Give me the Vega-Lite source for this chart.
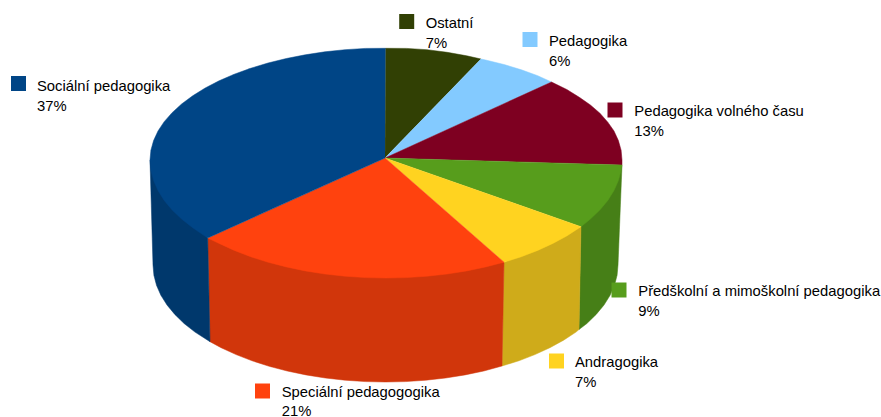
{"$schema":"https://vega.github.io/schema/vega-lite/v6.json","width":881,"height":417,"autosize":{"type":"none"},"padding":0,"background":"white","view":{"stroke":null},
"datasets":{
"wall":[
{"s":"Předškolní a mimoškolní pedagogika","q":1,"x":622,"y":165},{"s":"Předškolní a mimoškolní pedagogika","q":2,"x":618,"y":265},{"s":"Předškolní a mimoškolní pedagogika","q":3,"x":617.1,"y":275.2},{"s":"Předškolní a mimoškolní pedagogika","q":4,"x":614.5,"y":285.3},{"s":"Předškolní a mimoškolní pedagogika","q":5,"x":610.1,"y":295.3},{"s":"Předškolní a mimoškolní pedagogika","q":6,"x":604,"y":305},{"s":"Předškolní a mimoškolní pedagogika","q":7,"x":596.2,"y":314.4},{"s":"Předškolní a mimoškolní pedagogika","q":8,"x":586.9,"y":323.5},{"s":"Předškolní a mimoškolní pedagogika","q":9,"x":579,"y":329.5},{"s":"Předškolní a mimoškolní pedagogika","q":10,"x":581,"y":226.7},
{"s":"Andragogika","q":1,"x":581,"y":226.7},{"s":"Andragogika","q":2,"x":579,"y":329.5},{"s":"Andragogika","q":3,"x":576,"y":332.1},{"s":"Andragogika","q":4,"x":563.6,"y":340.2},{"s":"Andragogika","q":5,"x":549.9,"y":347.7},{"s":"Andragogika","q":6,"x":534.9,"y":354.6},{"s":"Andragogika","q":7,"x":518.9,"y":360.8},{"s":"Andragogika","q":8,"x":502,"y":366},{"s":"Andragogika","q":9,"x":504,"y":262.2},
{"s":"Speciální pedagogogika","q":1,"x":504,"y":262.2},{"s":"Speciální pedagogogika","q":2,"x":502,"y":366},{"s":"Speciální pedagogogika","q":3,"x":483.8,"y":371},{"s":"Speciální pedagogogika","q":4,"x":465,"y":374.9},{"s":"Speciální pedagogogika","q":5,"x":445.7,"y":378},{"s":"Speciální pedagogogika","q":6,"x":425.9,"y":380.2},{"s":"Speciální pedagogogika","q":7,"x":405.8,"y":381.6},{"s":"Speciální pedagogogika","q":8,"x":385.5,"y":382},{"s":"Speciální pedagogogika","q":9,"x":365.2,"y":381.6},{"s":"Speciální pedagogogika","q":10,"x":345.1,"y":380.2},{"s":"Speciální pedagogogika","q":11,"x":325.3,"y":378},{"s":"Speciální pedagogogika","q":12,"x":306,"y":374.9},{"s":"Speciální pedagogogika","q":13,"x":287.2,"y":371},{"s":"Speciální pedagogogika","q":14,"x":269.2,"y":366.3},{"s":"Speciální pedagogogika","q":15,"x":252.1,"y":360.8},{"s":"Speciální pedagogogika","q":16,"x":236.1,"y":354.6},{"s":"Speciální pedagogogika","q":17,"x":221.1,"y":347.7},{"s":"Speciální pedagogogika","q":18,"x":210,"y":341.7},{"s":"Speciální pedagogogika","q":19,"x":207.7,"y":238},
{"s":"Sociální pedagogika","q":1,"x":207.7,"y":238},{"s":"Sociální pedagogika","q":2,"x":210,"y":341.7},{"s":"Sociální pedagogika","q":3,"x":195,"y":332.1},{"s":"Sociální pedagogika","q":4,"x":184.1,"y":323.5},{"s":"Sociální pedagogika","q":5,"x":174.8,"y":314.4},{"s":"Sociální pedagogika","q":6,"x":167,"y":305},{"s":"Sociální pedagogika","q":7,"x":160.9,"y":295.3},{"s":"Sociální pedagogika","q":8,"x":156.5,"y":285.3},{"s":"Sociální pedagogika","q":9,"x":153.9,"y":275.2},{"s":"Sociální pedagogika","q":10,"x":153,"y":265},{"s":"Sociální pedagogika","q":11,"x":150,"y":160}
],
"top":[
{"s":"Ostatní","q":0,"x":385,"y":158},{"s":"Ostatní","q":1,"x":385.5,"y":48.3},{"s":"Ostatní","q":2,"x":406.6,"y":48.4},{"s":"Ostatní","q":3,"x":427,"y":49.7},{"s":"Ostatní","q":4,"x":447.1,"y":52.3},{"s":"Ostatní","q":5,"x":466.7,"y":55.8},{"s":"Ostatní","q":6,"x":481,"y":59},
{"s":"Pedagogika","q":0,"x":385,"y":158},{"s":"Pedagogika","q":1,"x":481,"y":59},{"s":"Pedagogika","q":2,"x":485.7,"y":60},{"s":"Pedagogika","q":3,"x":504,"y":64.5},{"s":"Pedagogika","q":4,"x":521.4,"y":69.8},{"s":"Pedagogika","q":5,"x":537.7,"y":75.7},{"s":"Pedagogika","q":6,"x":551.5,"y":82},
{"s":"Pedagogika volného času","q":0,"x":385,"y":158},{"s":"Pedagogika volného času","q":1,"x":551.5,"y":82},{"s":"Pedagogika volného času","q":2,"x":566.8,"y":89.5},{"s":"Pedagogika volného času","q":3,"x":579.3,"y":97.3},{"s":"Pedagogika volného času","q":4,"x":590.4,"y":105},{"s":"Pedagogika volného času","q":5,"x":599.9,"y":113.2},{"s":"Pedagogika volného času","q":6,"x":607.8,"y":122.2},{"s":"Pedagogika volného času","q":7,"x":614,"y":131},{"s":"Pedagogika volného času","q":8,"x":618.4,"y":140.6},{"s":"Pedagogika volného času","q":9,"x":621.1,"y":150.2},{"s":"Pedagogika volného času","q":10,"x":622,"y":160},{"s":"Pedagogika volného času","q":11,"x":622,"y":165},
{"s":"Předškolní a mimoškolní pedagogika","q":0,"x":385,"y":158},{"s":"Předškolní a mimoškolní pedagogika","q":1,"x":622,"y":165},{"s":"Předškolní a mimoškolní pedagogika","q":2,"x":621.1,"y":170.3},{"s":"Předškolní a mimoškolní pedagogika","q":3,"x":618.4,"y":180.5},{"s":"Předškolní a mimoškolní pedagogika","q":4,"x":614,"y":190.5},{"s":"Předškolní a mimoškolní pedagogika","q":5,"x":607.8,"y":200.4},{"s":"Předškolní a mimoškolní pedagogika","q":6,"x":599.9,"y":209.9},{"s":"Předškolní a mimoškolní pedagogika","q":7,"x":590.4,"y":219},{"s":"Předškolní a mimoškolní pedagogika","q":8,"x":581,"y":226.7},
{"s":"Andragogika","q":0,"x":385,"y":158},{"s":"Andragogika","q":1,"x":581,"y":226.7},{"s":"Andragogika","q":2,"x":566.8,"y":235.9},{"s":"Andragogika","q":3,"x":552.9,"y":243.4},{"s":"Andragogika","q":4,"x":537.7,"y":250.4},{"s":"Andragogika","q":5,"x":521.4,"y":256.7},{"s":"Andragogika","q":6,"x":504,"y":262.2},
{"s":"Speciální pedagogogika","q":0,"x":385,"y":158},{"s":"Speciální pedagogogika","q":1,"x":504,"y":262.2},{"s":"Speciální pedagogogika","q":2,"x":485.7,"y":266.9},{"s":"Speciální pedagogogika","q":3,"x":466.7,"y":270.9},{"s":"Speciální pedagogogika","q":4,"x":447.1,"y":274},{"s":"Speciální pedagogogika","q":5,"x":427,"y":276.2},{"s":"Speciální pedagogogika","q":6,"x":406.6,"y":277.6},{"s":"Speciální pedagogogika","q":7,"x":386,"y":278},{"s":"Speciální pedagogogika","q":8,"x":365.4,"y":277.6},{"s":"Speciální pedagogogika","q":9,"x":345,"y":276.2},{"s":"Speciální pedagogogika","q":10,"x":324.9,"y":274},{"s":"Speciální pedagogogika","q":11,"x":305.3,"y":270.9},{"s":"Speciální pedagogogika","q":12,"x":286.3,"y":266.9},{"s":"Speciální pedagogogika","q":13,"x":268,"y":262.2},{"s":"Speciální pedagogogika","q":14,"x":250.6,"y":256.7},{"s":"Speciální pedagogogika","q":15,"x":234.3,"y":250.4},{"s":"Speciální pedagogogika","q":16,"x":219.1,"y":243.4},{"s":"Speciální pedagogogika","q":17,"x":207.7,"y":238},
{"s":"Sociální pedagogika","q":0,"x":385,"y":158},{"s":"Sociální pedagogika","q":1,"x":207.7,"y":238},{"s":"Sociální pedagogika","q":2,"x":192.7,"y":227.7},{"s":"Sociální pedagogika","q":3,"x":181.6,"y":219},{"s":"Sociální pedagogika","q":4,"x":172.1,"y":209.9},{"s":"Sociální pedagogika","q":5,"x":164.2,"y":200.4},{"s":"Sociální pedagogika","q":6,"x":158,"y":190.5},{"s":"Sociální pedagogika","q":7,"x":153.6,"y":180.5},{"s":"Sociální pedagogika","q":8,"x":150.9,"y":170.3},{"s":"Sociální pedagogika","q":9,"x":150,"y":160},{"s":"Sociální pedagogika","q":10,"x":150.9,"y":150.2},{"s":"Sociální pedagogika","q":11,"x":153.6,"y":140.6},{"s":"Sociální pedagogika","q":12,"x":158,"y":131},{"s":"Sociální pedagogika","q":13,"x":164.2,"y":121.7},{"s":"Sociální pedagogika","q":14,"x":172.1,"y":112.7},{"s":"Sociální pedagogika","q":15,"x":181.6,"y":104},{"s":"Sociální pedagogika","q":16,"x":192.7,"y":95.8},{"s":"Sociální pedagogika","q":17,"x":205.2,"y":88},{"s":"Sociální pedagogika","q":18,"x":219.1,"y":80.8},{"s":"Sociální pedagogika","q":19,"x":234.3,"y":74.2},{"s":"Sociální pedagogika","q":20,"x":250.6,"y":68.3},{"s":"Sociální pedagogika","q":21,"x":268,"y":63},{"s":"Sociální pedagogika","q":22,"x":286.3,"y":58.5},{"s":"Sociální pedagogika","q":23,"x":305.3,"y":54.8},{"s":"Sociální pedagogika","q":24,"x":324.9,"y":51.8},{"s":"Sociální pedagogika","q":25,"x":345,"y":49.7},{"s":"Sociální pedagogika","q":26,"x":365.4,"y":48.4},{"s":"Sociální pedagogika","q":27,"x":385.5,"y":48.3}
],
"key":[
{"s":"Sociální pedagogika","share":0.37,"kx":18.5,"ky":83.5,"tx":37,"ty":90.7,"py":110.5},
{"s":"Ostatní","share":0.07,"kx":406.7,"ky":21.5,"tx":425.7,"ty":28.3,"py":48},
{"s":"Pedagogika","share":0.06,"kx":530,"ky":39.5,"tx":549,"ty":45.7,"py":66},
{"s":"Pedagogika volného času","share":0.13,"kx":615,"ky":110,"tx":634.3,"ty":116,"py":135.7},
{"s":"Předškolní a mimoškolní pedagogika","share":0.09,"kx":619,"ky":290,"tx":638.3,"ty":296,"py":316},
{"s":"Andragogika","share":0.07,"kx":556.5,"ky":361,"tx":575,"ty":366.7,"py":386.7},
{"s":"Speciální pedagogogika","share":0.21,"kx":262.5,"ky":391,"tx":281.7,"ty":397.3,"py":415.5}
]},
"resolve":{"scale":{"fill":"independent","stroke":"independent"}},
"layer":[
{"data":{"name":"wall"},"mark":{"type":"line","strokeWidth":0.5,"interpolate":"linear"},
"encoding":{"x":{"field":"x","type":"quantitative","scale":{"domain":[0,881],"nice":false,"zero":false},"axis":null},"y":{"field":"y","type":"quantitative","scale":{"domain":[417,0],"nice":false,"zero":false},"axis":null},"order":{"field":"q","type":"quantitative"},
"fill":{"field":"s","type":"nominal","legend":null,"scale":{"domain":["Předškolní a mimoškolní pedagogika","Andragogika","Speciální pedagogogika","Sociální pedagogika"],"range":["#467f17","#cfab1a","#d1360b","#00386c"]}},
"stroke":{"field":"s","type":"nominal","legend":null,"scale":{"domain":["Předškolní a mimoškolní pedagogika","Andragogika","Speciální pedagogogika","Sociální pedagogika"],"range":["#467f17","#cfab1a","#d1360b","#00386c"]}}}},
{"data":{"name":"top"},"mark":{"type":"line","strokeWidth":0.5,"interpolate":"linear"},
"encoding":{"x":{"field":"x","type":"quantitative","axis":null},"y":{"field":"y","type":"quantitative","axis":null},"order":{"field":"q","type":"quantitative"},
"fill":{"field":"s","type":"nominal","legend":null,"scale":{"domain":["Ostatní","Pedagogika","Pedagogika volného času","Předškolní a mimoškolní pedagogika","Andragogika","Speciální pedagogogika","Sociální pedagogika"],"range":["#314004","#83caff","#7e0021","#579d1c","#ffd320","#ff420e","#004586"]}},
"stroke":{"field":"s","type":"nominal","legend":null,"scale":{"domain":["Ostatní","Pedagogika","Pedagogika volného času","Předškolní a mimoškolní pedagogika","Andragogika","Speciální pedagogogika","Sociální pedagogika"],"range":["#314004","#83caff","#7e0021","#579d1c","#ffd320","#ff420e","#004586"]}}}},
{"data":{"name":"key"},"mark":{"type":"point","shape":"square","filled":true,"size":225,"opacity":1,"strokeWidth":0},
"encoding":{"x":{"field":"kx","type":"quantitative","axis":null},"y":{"field":"ky","type":"quantitative","axis":null},
"fill":{"field":"s","type":"nominal","legend":null,"scale":{"domain":["Ostatní","Pedagogika","Pedagogika volného času","Předškolní a mimoškolní pedagogika","Andragogika","Speciální pedagogogika","Sociální pedagogika"],"range":["#314004","#83caff","#7e0021","#579d1c","#ffd320","#ff420e","#004586"]}}}},
{"data":{"name":"key"},"mark":{"type":"text","font":"Liberation Sans","fontSize":14.8,"align":"left","baseline":"alphabetic","color":"#000000"},
"encoding":{"x":{"field":"tx","type":"quantitative","axis":null},"y":{"field":"ty","type":"quantitative","axis":null},"text":{"field":"s","type":"nominal"}}},
{"data":{"name":"key"},"mark":{"type":"text","font":"Liberation Sans","fontSize":14.8,"align":"left","baseline":"alphabetic","color":"#000000"},
"encoding":{"x":{"field":"tx","type":"quantitative","axis":null},"y":{"field":"py","type":"quantitative","axis":null},"text":{"field":"share","type":"quantitative","format":".0%"}}}
]}
